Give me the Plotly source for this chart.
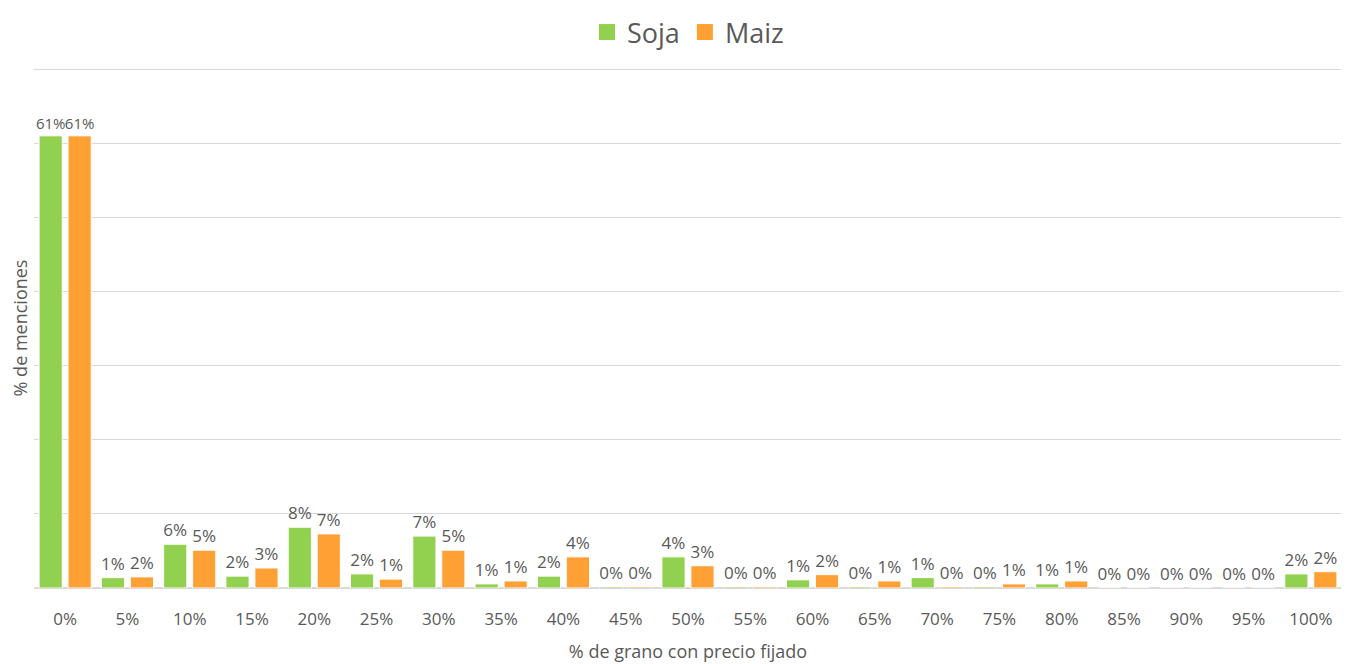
import plotly.graph_objects as go

categories = ["0%", "5%", "10%", "15%", "20%", "25%", "30%", "35%", "40%", "45%", "50%",
              "55%", "60%", "65%", "70%", "75%", "80%", "85%", "90%", "95%", "100%"]
soja = [0.61, 0.014, 0.059, 0.016, 0.082, 0.019, 0.070, 0.0055, 0.016, 0.002, 0.042,
        0.002, 0.011, 0.002, 0.014, 0.002, 0.0055, 0.0, 0.0, 0.0, 0.019]
maiz = [0.61, 0.015, 0.051, 0.027, 0.073, 0.012, 0.051, 0.0095, 0.042, 0.002, 0.030,
        0.002, 0.018, 0.0095, 0.002, 0.0055, 0.0095, 0.0, 0.0, 0.0, 0.022]

FONT = "Open Sans"
TXT = "#595959"
series = [("Soja", soja, "#92D050"), ("Maiz", maiz, "#FFA035")]

fig = go.Figure()
for name, vals, col in series:
    # the tall first-category labels are squeezed in the original
    label_sizes = [15 if v > 0.3 else 17 for v in vals]
    fig.add_trace(go.Bar(
        name=name, x=categories, y=vals, showlegend=False,
        marker=dict(color=col, line=dict(color="white", width=1)),
        texttemplate="%{y:.0%}", textposition="outside",
        textfont=dict(family=FONT, size=label_sizes, color=TXT),
        constraintext="none", cliponaxis=False,
    ))
# legend entries with larger square swatches
for name, vals, col in series:
    fig.add_trace(go.Scatter(
        name=name, x=[None], y=[None], mode="markers",
        marker=dict(symbol="square", size=16, color=col),
    ))

# page body has an 8px default margin; figure sized to fill the rest of the window
fig.update_layout(
    width=1341, height=656,
    paper_bgcolor="white", plot_bgcolor="white",
    margin=dict(l=26, r=7, t=60, b=76, autoexpand=False),
    barmode="group", bargap=0.07, bargroupgap=0.2,
    font=dict(family=FONT, color=TXT),
    legend=dict(orientation="h", x=0.5, xanchor="center", y=1, yanchor="top",
                yref="container", font=dict(size=27, color=TXT), itemwidth=30,
                borderwidth=0, traceorder="normal"),
    xaxis=dict(
        automargin=False,
        tickfont=dict(size=17, color=TXT), ticks="outside", ticklen=16, tickcolor="rgba(0,0,0,0)",
        showgrid=False, showline=False,
        title=dict(text="% de grano con precio fijado", font=dict(size=18, color=TXT), standoff=15),
    ),
    yaxis=dict(
        automargin=False,
        range=[0, 0.7015], dtick=0.1, showticklabels=False,
        gridcolor="#D9D9D9", gridwidth=1.3,
        zeroline=True, zerolinecolor="#D9D9D9", zerolinewidth=1.5,
        title=dict(text="% de menciones", font=dict(size=18, color=TXT), standoff=2),
    ),
)

fig.write_html("out.html")
